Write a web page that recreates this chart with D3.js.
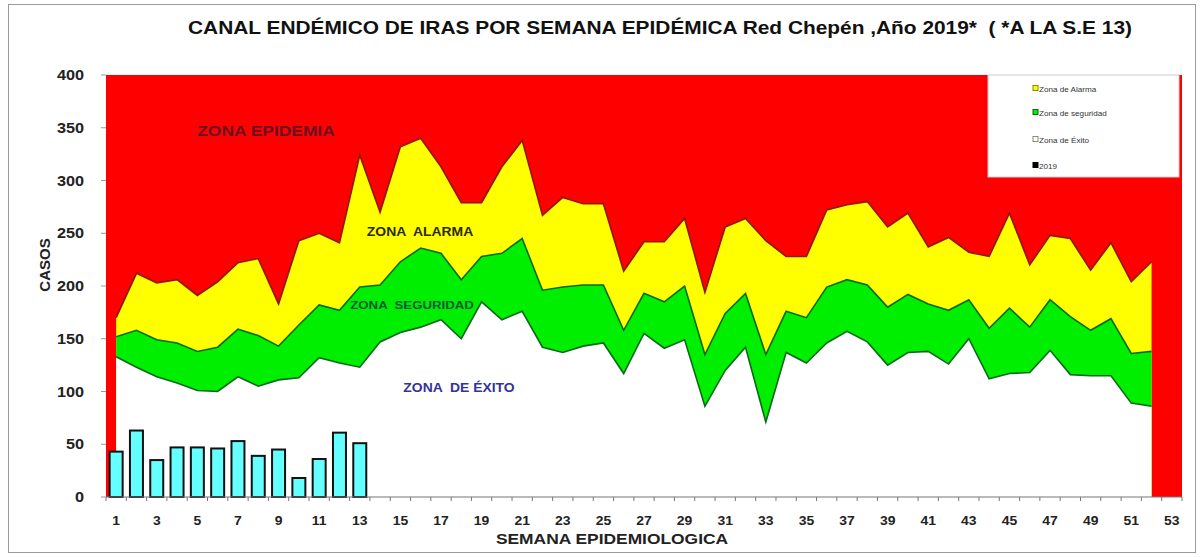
<!DOCTYPE html>
<html>
<head>
<meta charset="utf-8">
<script src="https://cdn.jsdelivr.net/npm/d3@7.9.0/dist/d3.min.js"></script>
<style>
  body { margin: 0; background: #fff; }
  text { font-family: "Liberation Sans", Arial, sans-serif; }
</style>
</head>
<body>
<div id="chart"></div>
<script>
// ---------------------------------------------------------
// Data
// ---------------------------------------------------------
const weeks = d3.range(1, 54);
const zoneWeeks = d3.range(1, 53);

// upper limit of alarm zone (epidemic threshold)
const alarma = [170, 212, 203, 206, 191, 204, 222, 226, 183, 243,
  250, 241, 324, 270, 332, 340, 313, 279, 279, 313,
  338, 267, 284, 278, 278, 214, 242, 242, 264, 194,
  256, 264, 243, 228, 228, 272, 277, 280, 256, 269,
  237, 246, 232, 228, 269, 220, 248, 245, 215, 241,
  204, 223];

// upper limit of security zone
const seguridad = [152, 158, 149, 146, 138, 142, 159, 153, 143, 163,
  182, 177, 199, 201, 223, 236, 231, 206, 228, 231,
  245, 196, 199, 201, 201, 158, 193, 185, 200, 135,
  174, 193, 135, 176, 170, 199, 206, 201, 180, 192,
  183, 177, 187, 160, 179, 161, 187, 171, 158, 169,
  136, 138];

// upper limit of success zone
const exito = [133, 123, 114, 108, 101, 100, 114, 105, 111, 113,
  132, 127, 123, 147, 156, 161, 168, 150, 185, 168,
  176, 142, 137, 143, 146, 117, 155, 141, 149, 86,
  120, 142, 71, 137, 127, 146, 157, 147, 125, 137,
  138, 126, 150, 112, 117, 118, 139, 116, 115, 115,
  89, 86];

// 2019 cases up to week 13
const casos2019 = [43, 63, 35, 47, 47, 46, 53, 39, 45, 18, 36, 61, 51];

const yTicks = [0, 50, 100, 150, 200, 250, 300, 350, 400];
const legendItems = ["Zona de Alarma", "Zona de seguridad", "Zona de Éxito", "2019"];

// ---------------------------------------------------------
// Layout
// ---------------------------------------------------------
const width = 1203, height = 557;
const plot = { left: 106, right: 1182, top: 75, bottom: 497 };
const sx = 1.16; // the original picture is stretched horizontally

const svg = d3.select("#chart").append("svg")
  .attr("width", width)
  .attr("height", height);

// text placed at (x, y) and widened like the original
function label(parent, x, y, txt, size, opts = {}) {
  return parent.append("text")
    .attr("transform", `translate(${x},${y}) scale(${sx},1)`)
    .attr("text-anchor", opts.anchor || "middle")
    .attr("font-size", size)
    .attr("font-weight", opts.weight || "bold")
    .attr("fill", opts.color || "#222")
    .style("white-space", "pre")
    .text(txt);
}

// outer frame
svg.append("rect")
  .attr("x", 8.5).attr("y", 4.5)
  .attr("width", 1187).attr("height", 548)
  .attr("fill", "none")
  .attr("stroke", "#9a9a9a");

const x = d3.scaleBand()
  .domain(weeks)
  .range([plot.left, plot.right])
  .padding(0);

const xc = w => x(w) + x.bandwidth() / 2;

const y = d3.scaleLinear()
  .domain([0, 400])
  .range([plot.bottom, plot.top]);

// --------------------------
// Zones
// --------------------------
svg.append("rect")
  .attr("x", plot.left)
  .attr("y", plot.top)
  .attr("width", plot.right - plot.left)
  .attr("height", plot.bottom - plot.top)
  .attr("fill", "#ff0000");

function zoneArea(values) {
  return d3.area()
    .x((d, i) => xc(zoneWeeks[i]))
    .y0(y(0))
    .y1(d => y(d))(values);
}
function zoneLine(values) {
  return d3.line()
    .x((d, i) => xc(zoneWeeks[i]))
    .y(d => y(d))(values);
}

const zones = [
  { values: alarma, fill: "#ffff00", stroke: "#8b1a00" },
  { values: seguridad, fill: "#00ee00", stroke: "#0b6a1a" },
  { values: exito, fill: "#ffffff", stroke: "#0b6a1a" }
];

zones.forEach(z => {
  svg.append("path")
    .attr("d", zoneArea(z.values))
    .attr("fill", z.fill);
});
zones.forEach(z => {
  svg.append("path")
    .attr("d", zoneLine(z.values))
    .attr("fill", "none")
    .attr("stroke", z.stroke)
    .attr("stroke-width", 1.6);
});

// --------------------------
// Zone labels
// --------------------------
label(svg, 266, 136, "ZONA EPIDEMIA", 15, { color: "#6a1020" });
label(svg, 420, 236, "ZONA  ALARMA", 12, { color: "#2a2a10" });
label(svg, 412, 309, "ZONA  SEGURIDAD", 11.4, { color: "#0a5a3a" });
label(svg, 459, 392, "ZONA  DE ÉXITO", 12, { color: "#333399" });

// --------------------------
// 2019 bars
// --------------------------
const barW = 13;
svg.append("g")
  .selectAll("rect")
  .data(casos2019)
  .join("rect")
  .attr("x", (d, i) => xc(weeks[i]) - barW / 2)
  .attr("y", d => y(d))
  .attr("width", barW)
  .attr("height", d => y(0) - y(d))
  .attr("fill", "#66ffff")
  .attr("stroke", "#111")
  .attr("stroke-width", 2);

// --------------------------
// Axes
// --------------------------
const xAxis = svg.append("g")
  .attr("transform", `translate(0,${plot.bottom})`);
xAxis.append("line")
  .attr("x1", plot.left).attr("x2", plot.right)
  .attr("stroke", "#777").attr("stroke-width", 1.2);
xAxis.selectAll("line.tick")
  .data(weeks.concat([54]))
  .join("line")
  .attr("class", "tick")
  .attr("x1", w => w === 54 ? plot.right : x(w))
  .attr("x2", w => w === 54 ? plot.right : x(w))
  .attr("y1", 0).attr("y2", 4)
  .attr("stroke", "#777");
weeks.filter(w => w % 2 === 1)
  .forEach(w => label(xAxis, xc(w), 28, String(w), 12));

const yAxis = svg.append("g");
yAxis.selectAll("line")
  .data(yTicks)
  .join("line")
  .attr("x1", plot.left - 5).attr("x2", plot.left)
  .attr("y1", d => y(d)).attr("y2", d => y(d))
  .attr("stroke", "#999");
yTicks.forEach(t => label(yAxis, 84, y(t) + 5, String(t), 14, { anchor: "end" }));

// axis titles
svg.append("text")
  .attr("transform", "rotate(-90)")
  .attr("x", -265)
  .attr("y", 50)
  .attr("text-anchor", "middle")
  .attr("font-size", 15)
  .attr("font-weight", "bold")
  .attr("fill", "#222")
  .text("CASOS");

label(svg, 612, 544, "SEMANA EPIDEMIOLOGICA", 15);

// title
label(svg, 660, 34, "CANAL ENDÉMICO DE IRAS POR SEMANA EPIDÉMICA Red Chepén ,Año 2019*  ( *A LA S.E 13)", 18, { color: "#111" });

// --------------------------
// Legend
// --------------------------
const legend = svg.append("g");
legend.append("rect")
  .attr("x", 988).attr("y", 75)
  .attr("width", 191).attr("height", 102)
  .attr("fill", "#fff")
  .attr("stroke", "#ccc");

const legendColors = ["#ffff00", "#00ee00", "#ffffff", "#000000"];
const legendStroke = ["#888800", "#0b6a1a", "#888", "#000"];
const legendY = [89, 113, 140, 166];

legendItems.forEach((t, i) => {
  legend.append("rect")
    .attr("x", 1033).attr("y", legendY[i] - 3.5)
    .attr("width", 5).attr("height", 5)
    .attr("fill", legendColors[i])
    .attr("stroke", legendStroke[i])
    .attr("stroke-width", 1);
  label(legend, 1039, legendY[i] + 2.5, t, 7, { anchor: "start", weight: "normal", color: "#333" });
});
</script>
</body>
</html>
